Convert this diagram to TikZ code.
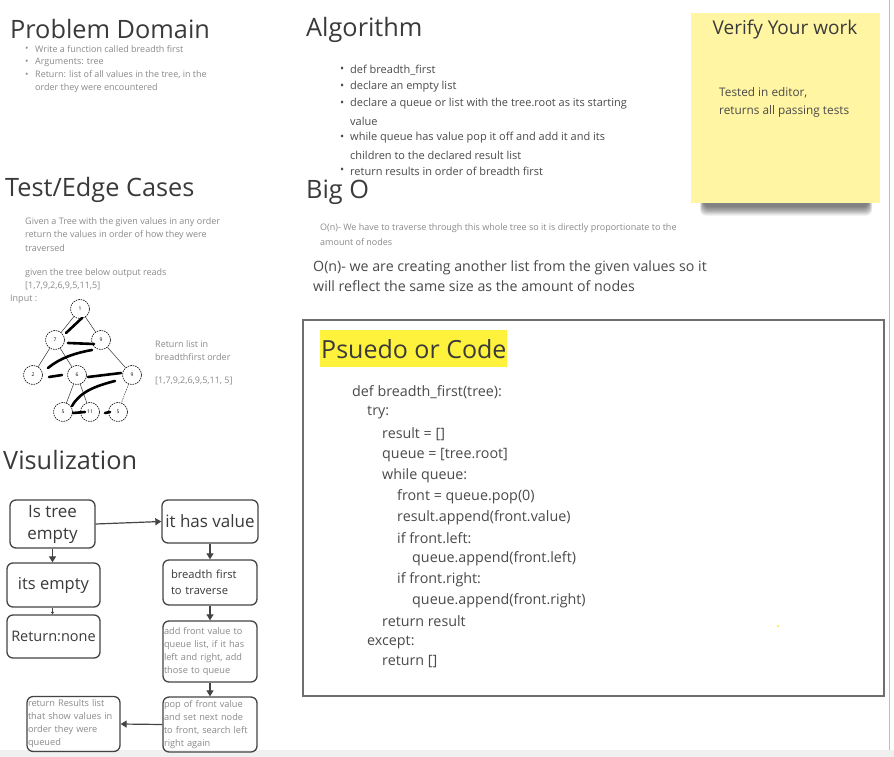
\documentclass[tikz,border=0pt]{standalone}
\usepackage{fontspec}
\setmainfont{Open Sans}
\usetikzlibrary{arrows.meta}
\definecolor{titlegray}{HTML}{3A3A3A}
\definecolor{bodygray}{HTML}{4A4A4A}
\definecolor{softgray}{HTML}{8A8A8A}
\definecolor{boxgray}{HTML}{444444}
\definecolor{stickyyellow}{HTML}{FFF5A3}
\definecolor{hilite}{HTML}{FFF23C}
\definecolor{codeborder}{HTML}{6E6E6E}
\begin{document}
\begin{tikzpicture}[x=1pt,y=-1pt,
  title/.style={anchor=west, inner sep=0pt, font=\fontsize{25.3}{30}\selectfont, text=titlegray},
  tiny/.style={anchor=west, inner sep=0pt, font=\fontsize{9}{11}\selectfont, text=softgray},
  algo/.style={anchor=west, inner sep=0pt, font=\fontsize{11}{13}\selectfont, text=bodygray},
  bigo/.style={anchor=west, inner sep=0pt, font=\fontsize{14.2}{17}\selectfont, text=bodygray},
  code/.style={anchor=west, inner sep=0pt, font=\fontsize{14.3}{17}\selectfont, text=bodygray},
  note/.style={anchor=west, inner sep=0pt, font=\fontsize{11.8}{14}\selectfont, text=bodygray},
  fbox/.style={draw=boxgray, line width=1.3pt, rounded corners=6pt, text=titlegray},
  bigtxt/.style={font=\fontsize{17}{22}\selectfont, align=center},
  smalltxt/.style={font=\fontsize{9.2}{13}\selectfont, align=left, text=softgray, inner xsep=1pt},
  arr/.style={draw=boxgray, line width=1.2pt, -{Triangle[width=7pt,length=6pt]}},
  tnode/.style={circle, draw=black, line width=0.6pt, dash pattern=on 1.6pt off 0.9pt, minimum size=19pt, inner sep=0pt, font=\fontsize{5}{6}\selectfont, fill=white},
  tedge/.style={draw=black!80, line width=0.5pt},
  scrib/.style={draw=black, line width=2.6pt, line cap=round}
]
\useasboundingbox (0,0) rectangle (894,757);
\fill[white] (0,0) rectangle (894,757);
% frame bits
\fill[black!6] (0,750) rectangle (894,757);
\draw[black!25, line width=0.8pt] (889,0) -- (889,750);

% ---------- Problem Domain ----------
\node[title] (pdt) at (10,29) {Problem Domain};
\node[tiny] (pdb1) at (25,49) {•};
\node[tiny] (pd1) at (35,49) {Write a function called breadth first};
\node[tiny] (pdb2) at (25,62) {•};
\node[tiny] (pd2) at (35,62) {Arguments: tree};
\node[tiny] (pdb3) at (25,75) {•};
\node[tiny] (pd3) at (35,75) {Return: list of all values in the tree, in the};
\node[tiny] (pd4) at (35,88) {order they were encountered};

% ---------- Test/Edge Cases ----------
\node[title] (tet) at (5,190) {Test/Edge Cases};
\node[tiny] (te1) at (25,222) {Given a Tree with the given values in any order};
\node[tiny] (te2) at (25,235) {return the values in order of how they were};
\node[tiny] (te3) at (25,248) {traversed};
\node[tiny] (te4) at (25,273) {given the tree below output reads};
\node[tiny] (te5) at (25,286) {[1,7,9,2,6,9,5,11,5]};
\node[tiny] (inp) at (10,299) {Input :};

% tree
\node[tnode] (n1) at (80,309) {1};
\node[tnode] (n7) at (55,340) {7};
\node[tnode] (n9) at (101,340) {9};
\node[tnode] (n2) at (33,375) {2};
\node[tnode] (n6) at (77,375) {6};
\node[tnode] (n9b) at (132,375) {9};
\node[tnode] (n5) at (63,412) {5};
\node[tnode] (n11) at (90,412) {11};
\node[tnode] (n5b) at (118,412) {5};
\draw[tedge] (n1) -- (n7);
\draw[tedge] (n1) -- (n9);
\draw[tedge] (n7) -- (n2);
\draw[tedge] (n7) -- (n6);
\draw[tedge] (n9) -- (n9b);
\draw[tedge] (n6) -- (n5);
\draw[tedge] (n6) -- (n11);
\draw[tedge, dash pattern=on 1.5pt off 1pt] (n9b) -- (n5b);
% scribbles
\draw[scrib] (66,333) -- (82,318);
\draw[scrib] (68,343) -- (94,344);
\draw[scrib] (92,350) .. controls (75,353) and (60,358) .. (48,368);
\draw[scrib] (49,377) -- (62,375);
\draw[scrib] (88,377) -- (121,373);
\draw[scrib] (115,381) .. controls (95,386) and (80,392) .. (72,406);
\draw[scrib] (73,413) -- (85,412);
\draw[scrib] (105,413) -- (110,412);

\node[tiny] (rl1) at (155,344) {Return list in};
\node[tiny] (rl2) at (155,357) {breadthfirst order};
\node[tiny] (rl3) at (155,381) {[1,7,9,2,6,9,5,11, 5]};

% ---------- Visulization ----------
\node[title] (vt) at (3,460) {Visulization};
\node[fbox, bigtxt, minimum width=85pt, minimum height=48pt] (q) at (52.5,524) {Is tree\\empty};
\node[fbox, bigtxt, minimum width=94pt, minimum height=43pt] (hv) at (210,521.5) {it has value};
\node[fbox, bigtxt, font=\fontsize{16.5}{20}\selectfont, minimum width=93pt, minimum height=44pt] (ie) at (53.5,585) {its empty};
\node[fbox, bigtxt, font=\fontsize{14.5}{18}\selectfont, minimum width=93pt, minimum height=43pt] (rn) at (53.5,636.5) {Return:none};
\node[fbox, font=\fontsize{11.2}{16.5}\selectfont, align=left, text width=78pt, minimum width=94pt, minimum height=45pt] (bf) at (210,582.5) {breadth first\\to traverse};
\node[fbox, smalltxt, text width=92pt, minimum width=94pt, minimum height=61pt] (af) at (210,651.5) {add front value to\\queue list, if it has\\left and right, add\\those to queue};
\node[fbox, smalltxt, text width=92pt, minimum width=94pt, minimum height=53pt] (pf) at (210,724.5) {pop of front value\\and set next node\\to front, search left\\right again};
\node[fbox, smalltxt, text width=91pt, minimum width=93pt, minimum height=54pt] (rr) at (73.5,724) {return Results list\\that show values in\\order they were\\queued};

\draw[arr] (q.east) -- (hv.west);
\draw[arr] (q.south) -- (q.south |- ie.north);
\draw[draw=boxgray, line width=0.8pt, -{Triangle[width=3pt,length=2.5pt]}] (ie.south -| q.south) -- (rn.north -| q.south);
\draw[arr] (hv.south) -- (bf.north);
\draw[arr] (bf.south) -- (af.north);
\draw[arr] (af.south) -- (pf.north);
\draw[arr] (pf.west) -- (rr.east);

% ---------- Algorithm ----------
\node[title] (at) at (306,30) {Algorithm};
\foreach \yy/\nm in {70/a1,87/a2,104/a3,138/a4,171/a5} {\node[algo] (b\nm) at (340,\yy) {•};}
\node[algo] (al1) at (350,70) {def breadth\_first};
\node[algo] (al2) at (350,87) {declare an empty list};
\node[algo] (al3) at (350,104) {declare a queue or list with the tree.root as its starting};
\node[algo] (al4) at (350,121) {value};
\node[algo] (al5) at (350,138) {while queue has value pop it off and add it and its};
\node[algo] (al6) at (350,155) {children to the declared result list};
\node[algo] (al7) at (350,171) {return results in order of breadth first};

% ---------- Big O ----------
\node[title] (bot) at (306,192) {Big O};
\node[tiny] (bo1) at (320,228) {O(n)- We have to traverse through this whole tree so it is directly proportionate to the};
\node[tiny] (bo2) at (320,242) {amount of nodes};
\node[bigo] (bo3) at (313,268) {O(n)- we are creating another list from the given values so it};
\node[bigo] (bo4) at (313,286) {will reflect the same size as the amount of nodes};

% ---------- Sticky note ----------
\foreach \k in {1,...,8} {
  \fill[black, opacity=0.08, rounded corners=6pt] (704-\k*0.5,190+\k*0.5) rectangle (868+\k*0.5,206+\k*1.2);
}
\fill[stickyyellow] (691,13) rectangle (880,203);
\node[anchor=center, inner sep=0pt, font=\fontsize{19}{22}\selectfont, text=titlegray] (vy) at (785,30) {Verify Your work};
\node[note] (vy1) at (719,93) {Tested in editor,};
\node[note] (vy2) at (719,111) {returns all passing tests};

% ---------- Code box ----------
\draw[codeborder, line width=1.6pt] (303,320) rectangle (884,696);
\fill[hilite] (320,330) rectangle (507,367);
\node[anchor=west, inner sep=0pt, font=\fontsize{25}{29}\selectfont, text=titlegray] (pct) at (321,349) {Psuedo or Code};
\node[code] (c1) at (352,392) {def breadth\_first(tree):};
\node[code] (c2) at (367,413) {try:};
\node[code] (c3) at (382,434) {result = []};
\node[code] (c4) at (382,455) {queue = [tree.root]};
\node[code] (c5) at (382,476) {while queue:};
\node[code] (c6) at (397,497) {front = queue.pop(0)};
\node[code] (c7) at (397,518) {result.append(front.value)};
\node[code] (c8) at (397,538) {if front.left:};
\node[code] (c9) at (412,559) {queue.append(front.left)};
\node[code] (c10) at (397,580) {if front.right:};
\node[code] (c11) at (412,601) {queue.append(front.right)};
\node[code] (c12) at (382,621) {return result};
\node[code] (c13) at (367,642) {except:};
\node[code] (c14) at (382,662) {return []};
\fill[hilite!90!orange] (778,626) circle (1.2pt);
\end{tikzpicture}
\end{document}
